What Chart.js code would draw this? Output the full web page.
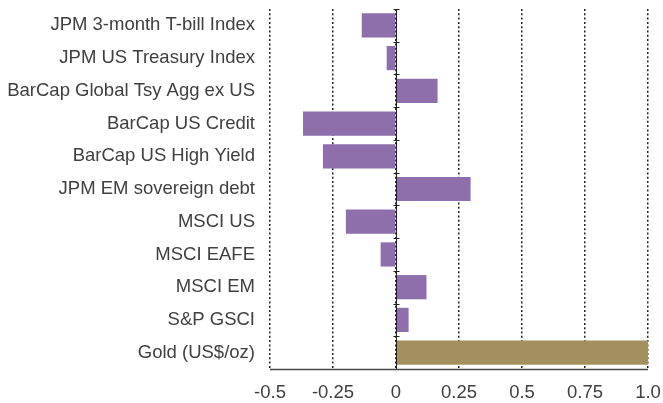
<!DOCTYPE html>
<html><head><meta charset="utf-8">
<script src="https://cdn.jsdelivr.net/npm/chart.js@4/dist/chart.umd.min.js"></script>
<style>html,body{margin:0;padding:0;background:#fff;}#wrap{width:663px;height:403px;}</style>
</head><body><div id="wrap"><canvas id="c" width="663" height="403"></canvas></div>
<script>
const categories = ["JPM 3-month T-bill Index","JPM US Treasury Index","BarCap Global Tsy Agg ex US","BarCap US Credit","BarCap US High Yield","JPM EM sovereign debt","MSCI US","MSCI EAFE","MSCI EM","S&P GSCI","Gold (US$/oz)"];
const values = [-0.136,-0.037,0.165,-0.369,-0.290,0.296,-0.199,-0.061,0.121,0.050,1.0];
const xTicks = [-0.5,-0.25,0,0.25,0.5,0.75,1.0];
const xTickLabels = ["-0.5","-0.25","0","0.25","0.5","0.75","1.0"];
const barColors = ["#8E6FAC","#8E6FAC","#8E6FAC","#8E6FAC","#8E6FAC","#8E6FAC","#8E6FAC","#8E6FAC","#8E6FAC","#8E6FAC","#A48F5F"];

const axisLines = {
  id:'axisLines',
  afterDatasetsDraw(chart){
    const {ctx, scales:{x,y}, chartArea} = chart;
    const px = Math.round(x.getPixelForValue(0)) + 0.5;
    ctx.save();
    ctx.strokeStyle = '#222';
    ctx.lineWidth = 1;
    ctx.beginPath();
    ctx.moveTo(px, chartArea.top);
    ctx.lineTo(px, chartArea.bottom);
    const n = categories.length;
    const step = y.getPixelForValue(1)-y.getPixelForValue(0);
    for(let i=0;i<n;i++){
      const yy = Math.round(y.getPixelForValue(i) - step/2)+0.5;
      ctx.moveTo(px-3, yy); ctx.lineTo(px+3, yy);
    }
    ctx.stroke();
    ctx.strokeStyle = '#444';
    ctx.lineWidth = 1.3;
    ctx.beginPath();
    const by = Math.round(chartArea.bottom)+0.5;
    ctx.moveTo(x.getPixelForValue(xTicks[0]), by);
    ctx.lineTo(x.getPixelForValue(xTicks[xTicks.length-1]), by);
    ctx.stroke();
    ctx.restore();
  }
};

new Chart(document.getElementById('c'), {
  type:'bar',
  data:{labels:categories, datasets:[{data:values, backgroundColor:barColors, borderWidth:0, barPercentage:0.74, categoryPercentage:1.0}]},
  options:{
    indexAxis:'y', responsive:false, animation:false,
    layout:{padding:{left:0,right:15,top:9,bottom:0}},
    plugins:{legend:{display:false}, tooltip:{enabled:false}},
    scales:{
      x:{
        min:-0.5, max:1.0,
        afterBuildTicks(s){ s.ticks = xTicks.map(v=>({value:v})); },
        ticks:{font:{family:'Liberation Sans, Arial', size:18.5}, color:'#404040', padding:13,
          callback:(v,i)=>xTickLabels[i]},
        grid:{color:'#222', lineWidth:1.5, drawTicks:false},
        border:{display:false, dash:[2,2.3]},
        afterFit(s){ s.height = 34; s.paddingLeft = 0; s.paddingRight = 0; }
      },
      y:{
        ticks:{font:{family:'Liberation Sans, Arial', size:18.5}, color:'#404040', padding:7},
        grid:{display:false},
        border:{display:false},
        afterFit(s){ s.width = 270; s.paddingTop = 0; s.paddingBottom = 0; }
      }
    }
  },
  plugins:[axisLines]
});
</script></body></html>
